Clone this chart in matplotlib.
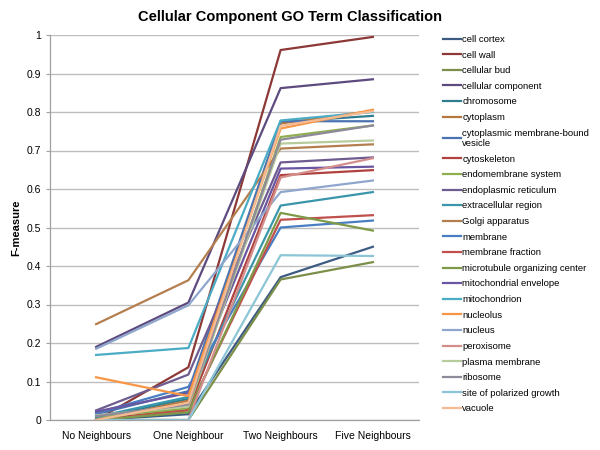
import matplotlib
matplotlib.use("Agg")
import matplotlib.pyplot as plt
import numpy as np

plt.rcParams['font.family'] = ['Liberation Sans', 'DejaVu Sans']

categories = ["No Neighbours", "One Neighbour", "Two Neighbours", "Five Neighbours"]

series_names = [
    "cell cortex", "cell wall", "cellular bud", "cellular component", "chromosome",
    "cytoplasm", "cytoplasmic membrane-bound\nvesicle", "cytoskeleton",
    "endomembrane system", "endoplasmic reticulum", "extracellular region",
    "Golgi apparatus", "membrane", "membrane fraction",
    "microtubule organizing center", "mitochondrial envelope", "mitochondrion",
    "nucleolus", "nucleus", "peroxisome", "plasma membrane", "ribosome",
    "site of polarized growth", "vacuole",
]

cell_cortex = [0.0, 0.015, 0.371, 0.450]
cell_wall = [0.0, 0.137, 0.961, 0.995]
cellular_bud = [0.0, 0.0, 0.365, 0.410]
cellular_component = [0.190, 0.305, 0.862, 0.885]
chromosome = [0.005, 0.055, 0.774, 0.790]
cytoplasm = [0.0, 0.050, 0.770, 0.803]
cytoplasmic_vesicle = [0.015, 0.075, 0.776, 0.776]
cytoskeleton = [0.0, 0.028, 0.636, 0.649]
endomembrane_system = [0.008, 0.030, 0.735, 0.765]
endoplasmic_reticulum = [0.025, 0.118, 0.669, 0.682]
extracellular_region = [0.008, 0.060, 0.557, 0.592]
golgi_apparatus = [0.249, 0.363, 0.705, 0.716]
membrane = [0.018, 0.086, 0.500, 0.518]
membrane_fraction = [0.0, 0.025, 0.520, 0.532]
microtubule_oc = [0.0, 0.020, 0.538, 0.492]
mitochondrial_envelope = [0.022, 0.070, 0.653, 0.658]
mitochondrion = [0.169, 0.187, 0.778, 0.800]
nucleolus = [0.111, 0.062, 0.757, 0.806]
nucleus = [0.185, 0.298, 0.592, 0.622]
peroxisome = [0.0, 0.0, 0.630, 0.680]
plasma_membrane = [0.012, 0.035, 0.718, 0.726]
ribosome = [0.010, 0.040, 0.728, 0.765]
site_polarized_growth = [0.0, 0.0, 0.428, 0.426]
vacuole = [0.0, 0.045, 0.764, 0.802]

values = [
    cell_cortex, cell_wall, cellular_bud, cellular_component, chromosome,
    cytoplasm, cytoplasmic_vesicle, cytoskeleton, endomembrane_system,
    endoplasmic_reticulum, extracellular_region, golgi_apparatus, membrane,
    membrane_fraction, microtubule_oc, mitochondrial_envelope, mitochondrion,
    nucleolus, nucleus, peroxisome, plasma_membrane, ribosome,
    site_polarized_growth, vacuole,
]

colors = [
    "#3D5B82", "#8C3836", "#7B8F4A", "#5D4A7E", "#2E7E90", "#B4773E",
    "#4A73B2", "#B0413F", "#8FAE50", "#6E5C90", "#3A96AB", "#B47E4E",
    "#4A7EC2", "#C0504D", "#7E9A48", "#6A55A0", "#4BACC6", "#F79646",
    "#8FA6CD", "#D38E8C", "#B7CB9C", "#8E8A9A", "#8CC5D5", "#F6BB92",
]

fig = plt.figure(figsize=(6, 4.5), dpi=100)
ax = fig.add_axes([50/600, 30/450, 369/600, 385/450])

x = np.arange(len(categories))
for name, vals, c in zip(series_names, values, colors):
    ax.plot(x, vals, color=c, linewidth=1.6, label=name)

ax.set_xlim(-0.5, len(categories) - 0.5)
ax.set_ylim(0, 1)
ax.set_yticks(np.arange(0, 1.01, 0.1))
ax.set_yticklabels(["0", "0.1", "0.2", "0.3", "0.4", "0.5", "0.6", "0.7", "0.8", "0.9", "1"])
ax.set_xticks(x)
ax.set_xticklabels(categories)
ax.tick_params(axis='both', labelsize=7.5, colors='#000000', length=3, width=0.8)
ax.tick_params(axis='x', length=0, pad=8)
ax.tick_params(axis='y', color='#A0A0A0')
ax.grid(axis='y', color='#BEBEBE', linewidth=1.0)
ax.set_axisbelow(True)
for s in ['top', 'right']:
    ax.spines[s].set_visible(False)
for s in ['left', 'bottom']:
    ax.spines[s].set_color('#A0A0A0')
    ax.spines[s].set_linewidth(0.9)

ax.set_ylabel("F-measure", fontsize=8, fontweight='bold', labelpad=4)
fig.suptitle("Cellular Component GO Term Classification", x=0.483, y=0.978,
             fontsize=10.5, fontweight='bold')

leg = ax.legend(loc='upper left', bbox_to_anchor=(1.055, 1.01), frameon=False,
                fontsize=6.8, handlelength=1.9, handletextpad=0.15,
                labelspacing=0.70, borderaxespad=0)

fig.savefig("out.png", dpi=100)
